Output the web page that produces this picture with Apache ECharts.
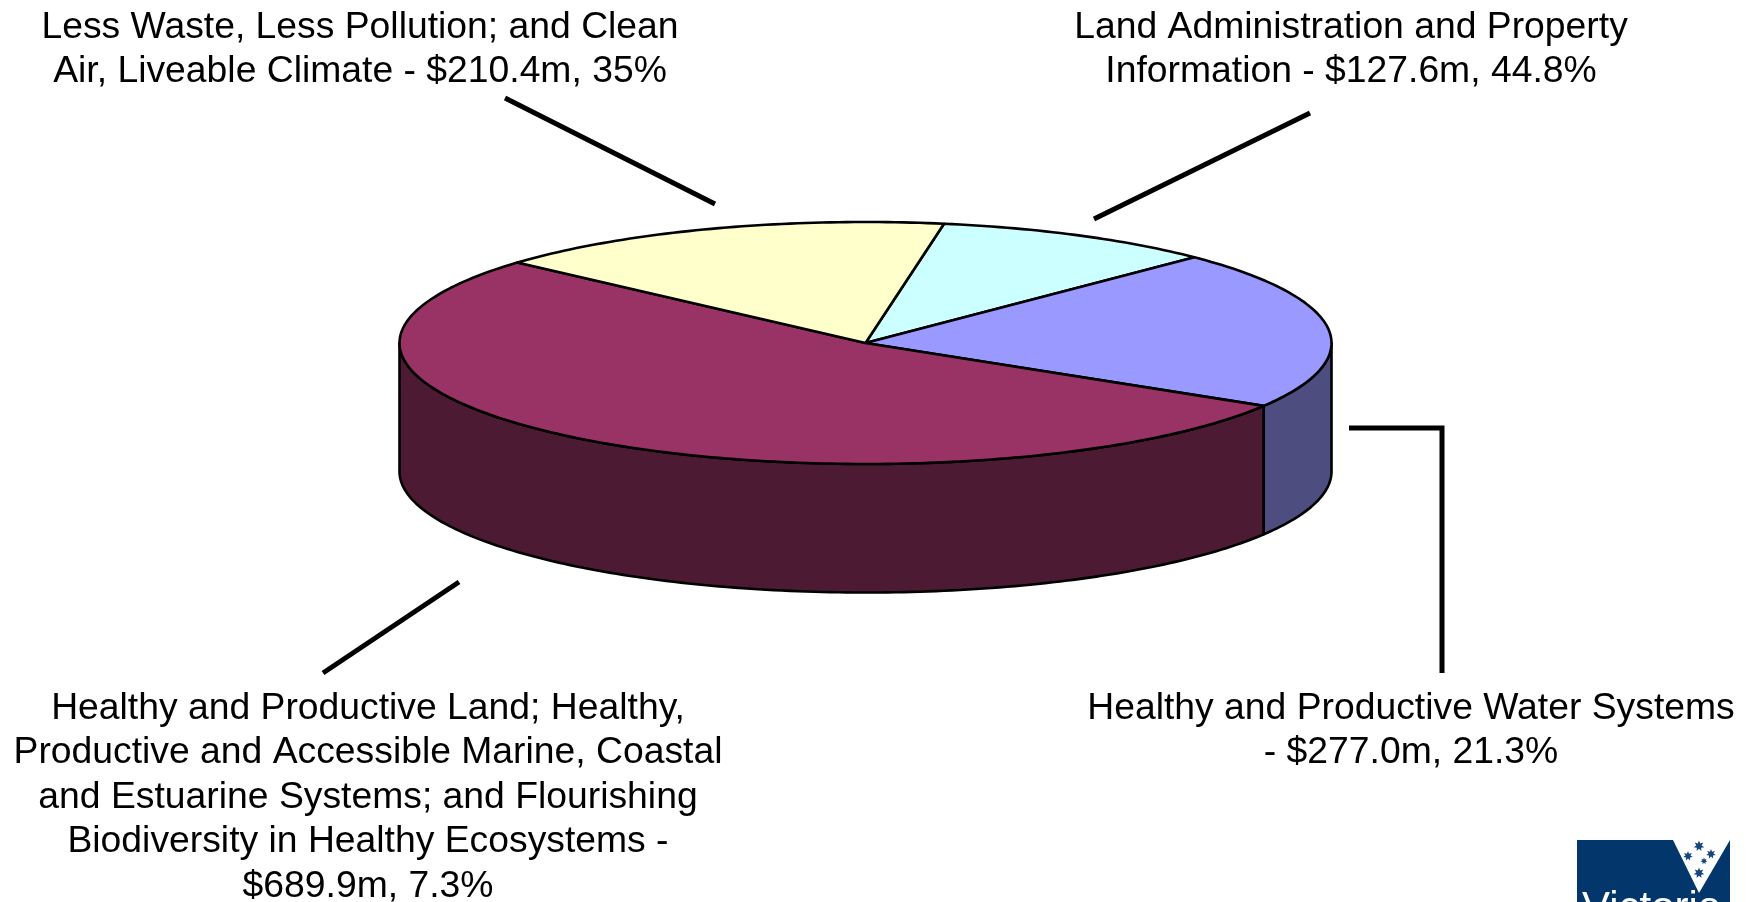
<!DOCTYPE html>
<html>
<head>
<meta charset="utf-8">
<title>Pie</title>
<style>
    html, body { margin: 0; padding: 0; background: #fff; }
    #e1 { width: 1751px; height: 902px; }
</style>
<script src="https://cdn.jsdelivr.net/npm/echarts@6/dist/echarts.min.js"></script>
</head>
<body>
<div id="e1"></div>
<script>
var categories = ['Land Administration and Property Information',
    'Healthy and Productive Water Systems',
    'Healthy and Productive Land; Healthy, Productive and Accessible Marine, Coastal and Estuarine Systems; and Flourishing Biodiversity in Healthy Ecosystems',
    'Less Waste, Less Pollution; and Clean Air, Liveable Climate'];
var values = [127.6, 277.0, 689.9, 210.4];
var topColors = ['#CCFFFF', '#9999FF', '#993366', '#FFFFCC'];
var sideColors = ['#668080', '#4D4D80', '#4D1A33', '#808066'];
var labelTexts = [
    'Land Administration and Property\nInformation - $127.6m, 44.8%',
    'Healthy and Productive Water Systems\n- $277.0m, 21.3%',
    'Healthy and Productive Land; Healthy,\nProductive and Accessible Marine, Coastal\nand Estuarine Systems; and Flourishing\nBiodiversity in Healthy Ecosystems -\n$689.9m, 7.3%',
    'Less Waste, Less Pollution; and Clean\nAir, Liveable Climate - $210.4m, 35%'
];

var e1 = echarts.init(document.getElementById('e1'));

// pie geometry, angles are clockwise from north
var cx = 865.5, cy = 343, rx = 466, ry = 121, depth = 128.5, startAngle = 9.7;
var fontName = '"Liberation Sans", Arial, sans-serif';

var total = 0;
for (var i = 0; i < values.length; i++) {
    total += values[i];
}

function sliceRange(idx) {
    var sum = 0;
    for (var i = 0; i < idx; i++) {
        sum += values[i];
    }
    return [startAngle + sum / total * 360, startAngle + (sum + values[idx]) / total * 360];
}

function ellipsePoint(deg, dy) {
    var r = deg * Math.PI / 180;
    return [cx + rx * Math.sin(r), cy - ry * Math.cos(r) + dy];
}

function renderTop(params, api) {
    var range = sliceRange(api.value(0));
    var pts = [[cx, cy]];
    for (var a = range[0]; a < range[1]; a += 1) {
        pts.push(ellipsePoint(a, 0));
    }
    pts.push(ellipsePoint(range[1], 0));
    return {
        type: 'polygon',
        shape: { points: pts },
        style: { fill: topColors[api.value(0)], stroke: '#000', lineWidth: 2.6, lineJoin: 'round' }
    };
}

// only the part between east and west of the rim is seen
function renderSide(params, api) {
    var range = sliceRange(api.value(0));
    var from = Math.max(range[0], 90), to = Math.min(range[1], 270);
    if (from >= to) {
        return null;
    }
    var upper = [], lower = [];
    for (var a = from; a < to; a += 1) {
        upper.push(ellipsePoint(a, 0));
        lower.unshift(ellipsePoint(a, depth));
    }
    upper.push(ellipsePoint(to, 0));
    lower.unshift(ellipsePoint(to, depth));
    return {
        type: 'polygon',
        shape: { points: upper.concat(lower) },
        style: { fill: sideColors[api.value(0)], stroke: '#000', lineWidth: 2.6, lineJoin: 'round' }
    };
}

function leader(points) {
    return {
        type: 'polyline',
        shape: { points: points },
        style: { fill: null, stroke: '#000', lineWidth: 5 }
    };
}

function label(idx, x, y) {
    return {
        type: 'text',
        x: x,
        y: y,
        style: {
            text: labelTexts[idx],
            font: '37.3px ' + fontName,
            lineHeight: 44.6,
            fill: '#000',
            align: 'center',
            verticalAlign: 'top'
        }
    };
}

function logoStar(x, y, r) {
    var pts = [];
    for (var k = 0; k < 14; k++) {
        var rad = k % 2 ? r * 0.5 : r;
        var ang = k * Math.PI / 7;
        pts.push([x + rad * Math.sin(ang), y - rad * Math.cos(ang)]);
    }
    return {
        type: 'polygon',
        shape: { points: pts },
        style: { fill: '#16467C' }
    };
}

var sliceData = [];
for (var j = 0; j < values.length; j++) {
    sliceData.push([j, values[j]]);
}

var option1 = {
    animation: false,
    backgroundColor: '#fff',
    series: [{
        type: 'custom',
        coordinateSystem: 'none',
        renderItem: renderSide,
        data: sliceData,
        z: 1
    }, {
        type: 'custom',
        coordinateSystem: 'none',
        renderItem: renderTop,
        data: sliceData,
        z: 2
    }],
    graphic: [
        leader([[505, 98], [715, 204]]),
        leader([[1310, 113], [1094, 219]]),
        leader([[1349, 428], [1442, 428], [1442, 673]]),
        leader([[459, 582], [323, 673]]),
        label(0, 1351, 5),
        label(1, 1411, 686),
        label(2, 368, 686),
        label(3, 360, 5),
        // logo corner
        { type: 'rect', shape: { x: 1577, y: 840, width: 153, height: 62 }, style: { fill: '#03366B' } },
        { type: 'polygon', shape: { points: [[1673, 840], [1730, 840], [1699, 893]] }, style: { fill: '#fff' } },
        logoStar(1699, 846, 5.5),
        logoStar(1688, 856, 5),
        logoStar(1711, 854, 5),
        logoStar(1704, 861, 3.5),
        logoStar(1699, 873, 5.5),
        {
            type: 'text',
            x: 1582,
            y: 888,
            style: { text: 'Victoria', font: '42px ' + fontName, fill: '#fff', align: 'left', verticalAlign: 'top' }
        }
    ]
};
e1.setOption(option1);
</script>
</body>
</html>
